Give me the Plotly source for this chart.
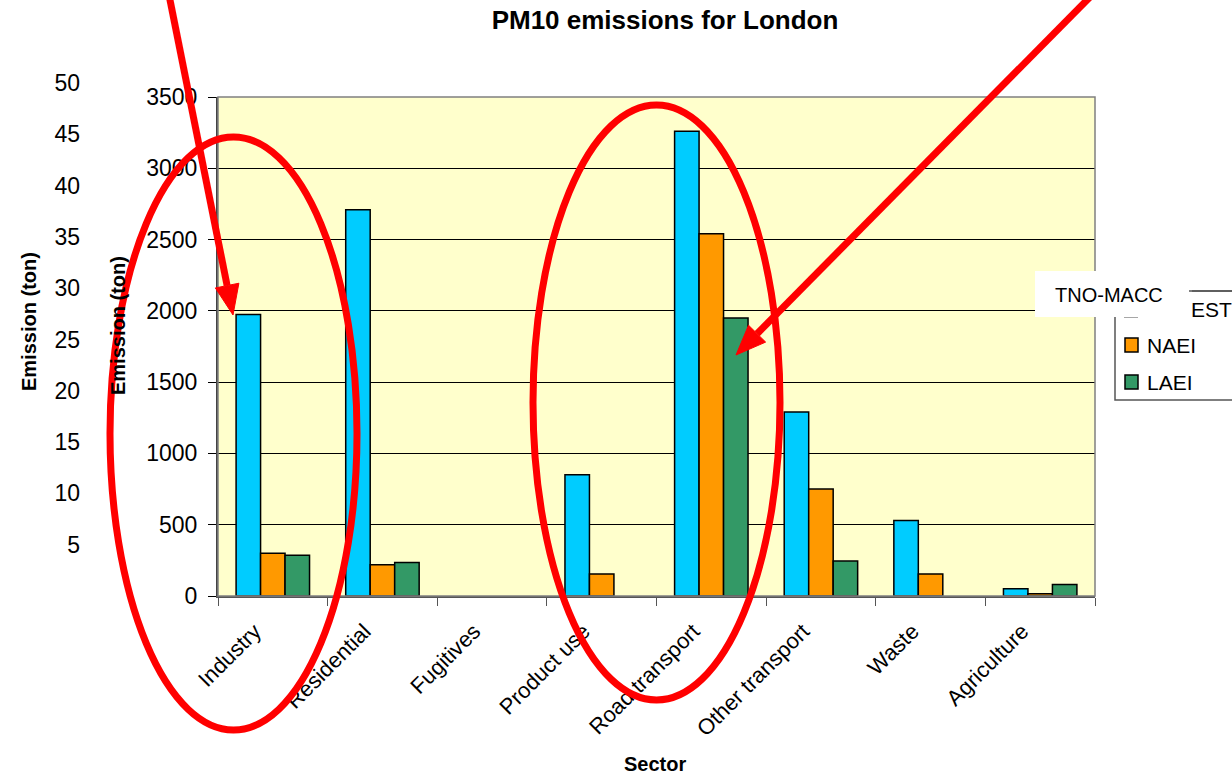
import plotly.graph_objects as go

# ---- data -------------------------------------------------------------
sectors = ["Industry", "Residential", "Fugitives", "Product use",
           "Road transport", "Other transport", "Waste", "Agriculture"]
tno_macc = [1975, 2710, 0, 850, 3260, 1290, 530, 50]
naei = [300, 220, 0, 155, 2540, 750, 155, 15]
laei = [285, 235, 0, 0, 1950, 245, 0, 80]
series_names = ["TNO-MACC", "NAEI", "LAEI"]
series_colors = ["#00CCFF", "#FF9900", "#339966"]

left_ticks = [500 * i for i in range(8)]            # 0 .. 3500
outer_ticks = [5 * i for i in range(1, 11)]         # 5 .. 50

# ---- page geometry ----------------------------------------------------
W, H = 1232, 777
ML, MR, MT, MB = 40, 137, 60, 181
PW, PH = W - ML - MR, H - MT - MB


def px(x):
    return (x - ML) / PW


def py(y):
    return (H - MB - y) / PH


FONT = "Liberation Sans, Arial, sans-serif"

fig = go.Figure()
for name, vals, col in zip(series_names, [tno_macc, naei, laei], series_colors):
    fig.add_trace(go.Bar(
        x=sectors, y=vals, name=name, marker_color=col,
        marker_line_color="#000000",
        marker_line_width=[1.5 if v else 0 for v in vals],
        showlegend=False,
    ))

# empty trace that carries the outer 0-50 scale
fig.add_trace(go.Scatter(x=[], y=[], xaxis="x", yaxis="y2", showlegend=False))

shapes = []
# plot background and frame
shapes.append(dict(type="rect", xref="x domain", yref="y domain", x0=0, x1=1, y0=0, y1=1,
                   fillcolor="#FFFFCC", line_width=0, layer="below"))
shapes.append(dict(type="rect", xref="x domain", yref="y domain", x0=0, x1=1, y0=0, y1=1,
                   line=dict(color="#808080", width=1.5), layer="above"))

RED = "#FF0000"
# highlight ellipses
shapes.append(dict(type="circle", xref="paper", yref="paper",
                   x0=px(110), x1=px(357), y0=py(730), y1=py(137),
                   line=dict(color=RED, width=7)))
shapes.append(dict(type="circle", xref="paper", yref="paper",
                   x0=px(533), x1=px(780), y0=py(700), y1=py(105),
                   line=dict(color=RED, width=7)))


def arrow(x_start, y_start, x_tip, y_tip, head_len=30, head_half=12):
    dx, dy = x_tip - x_start, y_tip - y_start
    n = (dx * dx + dy * dy) ** 0.5
    ux, uy = dx / n, dy / n
    bx, by = x_tip - head_len * ux, y_tip - head_len * uy
    qx, qy = -uy, ux
    out = [dict(type="line", xref="paper", yref="paper",
                x0=px(x_start), y0=py(y_start), x1=px(bx), y1=py(by),
                line=dict(color=RED, width=7))]
    p1 = (bx + head_half * qx, by + head_half * qy)
    p2 = (bx - head_half * qx, by - head_half * qy)
    path = "M {} {} L {} {} L {} {} Z".format(px(x_tip), py(y_tip), px(p1[0]), py(p1[1]),
                                             px(p2[0]), py(p2[1]))
    out.append(dict(type="path", xref="paper", yref="paper", path=path,
                    fillcolor=RED, line=dict(color=RED, width=1)))
    return out


shapes += arrow(169, -5, 233, 315)
shapes += arrow(1092, -5, 736, 355)

annotations = []
# axis titles
annotations.append(dict(xref="paper", yref="paper", x=px(29), y=py(322),
                        text="<b>Emission (ton)</b>", textangle=-90, showarrow=False,
                        xanchor="center", yanchor="middle",
                        font=dict(family=FONT, size=20, color="#000000")))
annotations.append(dict(xref="paper", yref="paper", x=px(118), y=py(326),
                        text="<b>Emission (ton)</b>", textangle=-90, showarrow=False,
                        xanchor="center", yanchor="middle",
                        font=dict(family=FONT, size=20, color="#000000")))
annotations.append(dict(xref="paper", yref="paper", x=px(655), y=py(764),
                        text="<b>Sector</b>", showarrow=False,
                        xanchor="center", yanchor="middle",
                        font=dict(family=FONT, size=20, color="#000000")))

# legend box (runs off the right edge)
shapes.append(dict(type="rect", xref="paper", yref="paper",
                   x0=px(1115), x1=px(1260), y0=py(400), y1=py(291),
                   fillcolor="#FFFFFF", line=dict(color="#555555", width=1.5)))
shapes.append(dict(type="line", xref="paper", yref="paper",
                   x0=px(1124), x1=px(1138), y0=py(317), y1=py(317),
                   line=dict(color="#888888", width=1.5)))
for i, (name, col) in enumerate(zip(series_names[1:], series_colors[1:])):
    yc = 345 + 37 * i
    shapes.append(dict(type="rect", xref="paper", yref="paper",
                       x0=px(1125), x1=px(1138), y0=py(yc + 7), y1=py(yc - 7),
                       fillcolor=col, line=dict(color="#000000", width=1.5)))
    annotations.append(dict(xref="paper", yref="paper", x=px(1145), y=py(yc),
                            text=name, showarrow=False, xanchor="left", yanchor="middle",
                            font=dict(family=FONT, size=21, color="#000000")))
# label box laid over the first legend entry
shapes.append(dict(type="rect", xref="paper", yref="paper",
                   x0=px(1035), x1=px(1189), y0=py(317), y1=py(271),
                   fillcolor="#FFFFFF", line_width=0))
annotations.append(dict(xref="paper", yref="paper", x=px(1053), y=py(295),
                        text=series_names[0], showarrow=False, xanchor="left", yanchor="middle",
                        font=dict(family=FONT, size=20, color="#000000")))
annotations.append(dict(xref="paper", yref="paper", x=px(1189), y=py(309),
                        text="EST", showarrow=False, xanchor="left", yanchor="middle",
                        font=dict(family=FONT, size=21, color="#000000")))
shapes.append(dict(type="line", xref="paper", yref="paper",
                   x0=px(1192), x1=px(1240), y0=py(291), y1=py(291),
                   line=dict(color="#555555", width=1.5)))

fig.update_layout(
    width=W, height=H,
    margin=dict(l=ML, r=MR, t=MT, b=MB, autoexpand=False),
    paper_bgcolor="#FFFFFF", plot_bgcolor="rgba(0,0,0,0)",
    font=dict(family=FONT, size=20, color="#000000"),
    title=dict(text="<b>PM10 emissions for London</b>", x=px(665), xanchor="center",
               y=1 - 20 / H, yanchor="middle", xref="paper",
               font=dict(family=FONT, size=26, color="#000000")),
    barmode="group", bargap=0.33, bargroupgap=0,
    xaxis=dict(domain=[px(218), 1], type="category", tickangle=-45,
               tickson="boundaries", ticks="outside", ticklen=8, tickcolor="#555555",
               showline=True, linecolor="#555555", linewidth=1.5, showgrid=False,
               tickfont=dict(family=FONT, size=22),
               ticklabelstandoff=12, ticklabelshift=-18),
    yaxis=dict(domain=[0, py(97)], range=[0, 3500], tickvals=left_ticks,
               ticks="outside", ticklen=8, tickcolor="#000000",
               showline=True, linecolor="#444444", linewidth=2,
               showgrid=True, gridcolor="#000000", gridwidth=1, zeroline=False,
               tickfont=dict(family=FONT, size=23), ticklabelstandoff=6),
    yaxis2=dict(domain=[0, py(83)], range=[0, 50], tickvals=outer_ticks,
                anchor="free", position=px(80), side="left",
                showline=False, showgrid=False, zeroline=False, ticks="",
                tickfont=dict(family=FONT, size=23)),
    shapes=shapes, annotations=annotations,
)

fig.write_html("out.html")
